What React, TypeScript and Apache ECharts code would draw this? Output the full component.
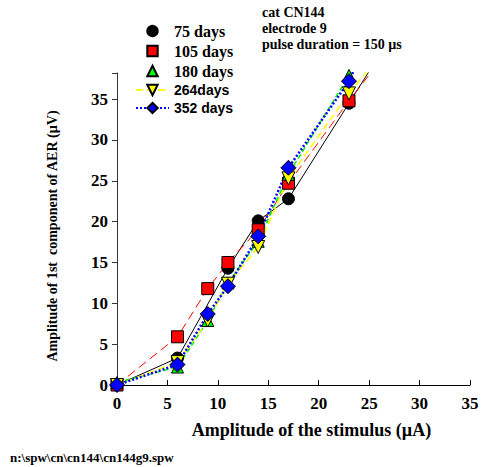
import React, { useEffect, useRef } from "react";
import * as echarts from "echarts";

const seriesNames = ["75 days", "105 days", "180 days", "264days", "352 days"];
const xTicks = [0, 5, 10, 15, 20, 25, 30, 35];
const yTicks = [0, 5, 10, 15, 20, 25, 30, 35];

// [stimulus µA, amplitude µV]
const d75: number[][] = [[0, 0], [6, 3.3], [11, 14.3], [14, 20.1], [17, 22.8], [23, 34.5]];
const d105: number[][] = [[0, 0], [6, 5.9], [9, 11.8], [11, 15.0], [14, 19.0], [17, 24.7], [23, 34.8]];
const d180: number[][] = [[0, 0.3], [6, 2.2], [9, 7.9], [11, 12.5], [14, 17.6], [17, 25.8], [23, 37.9]];
const d264: number[][] = [[0, 0], [6, 2.8], [9, 7.9], [11, 12.4], [14, 16.9], [17, 25.3], [23, 35.7]];
const d352: number[][] = [[0, 0], [6, 2.5], [9, 8.7], [11, 12.1], [14, 18.2], [17, 26.6], [23, 37.2]];
// continuation of each trace beyond the last measured point (no marker)
const ext75 = [25.1, 38.6];
const ext105 = [25.4, 38.6];
const ext180 = [23.3, 38.6];
const ext264 = [25.0, 38.7];
const ext352 = [23.5, 38.6];

const infoLines = ["cat CN144", "electrode 9", "pulse duration = 150 µs"];
const footer = "n:\\spw\\cn\\cn144\\cn144g9.spw";

const SERIF = "'Liberation Serif', 'Times New Roman', serif";
const SANS = "'Liberation Sans', Arial, sans-serif";

export default function App() {
  const ref = useRef<HTMLDivElement>(null);
  useEffect(() => {
    if (!ref.current) return;
    const chart = echarts.init(ref.current, undefined, { renderer: "svg" });

    const mk = (pts: number[][], ext: number[]) => [
      ...pts.map((p) => ({ value: p })),
      { value: ext, symbol: "none" },
    ];

    const series: any[] = [
      {
        name: seriesNames[0],
        type: "line",
        data: mk(d75, ext75),
        symbol: "circle",
        symbolSize: 12,
        itemStyle: { color: "#000", borderColor: "#000", borderWidth: 1 },
        lineStyle: { color: "#000", width: 1, type: "solid" },
      },
      {
        name: seriesNames[1],
        type: "line",
        data: mk(d105, ext105),
        symbol: "rect",
        symbolSize: 12,
        itemStyle: { color: "#ff0000", borderColor: "#000", borderWidth: 1 },
        lineStyle: { color: "#ff0000", width: 1, type: [9, 5] },
      },
      {
        name: seriesNames[2],
        type: "line",
        data: mk(d180, ext180),
        symbol: "triangle",
        symbolSize: 12,
        itemStyle: { color: "#00ff00", borderColor: "#000", borderWidth: 1 },
        lineStyle: { color: "#00ee00", width: 1.5, type: [5, 3] },
      },
      {
        name: seriesNames[3],
        type: "line",
        data: mk(d264, ext264),
        symbol: "triangle",
        symbolRotate: 180,
        symbolSize: 13,
        itemStyle: { color: "#ffff00", borderColor: "#000", borderWidth: 1 },
        lineStyle: { color: "#ffff00", width: 1.5, type: [7, 4] },
      },
      {
        name: seriesNames[4],
        type: "line",
        data: mk(d352, ext352),
        symbol: "diamond",
        symbolSize: 15,
        itemStyle: { color: "#0000ff", borderColor: "#000", borderWidth: 1 },
        lineStyle: { color: "#0000ff", width: 2.5, type: [2, 2] },
      },
    ].map((s) => ({ ...s, clip: true, z: 2 }));

    const serifLegend = { fontFamily: SERIF, fontWeight: "bold", fontSize: 16, color: "#000" };
    const sansLegend = { fontFamily: SANS, fontWeight: "bold", fontSize: 14, color: "#000" };

    chart.setOption({
      animation: false,
      backgroundColor: "#fff",
      grid: { left: 117, right: 14, top: 73, bottom: 82, containLabel: false },
      legend: {
        orient: "vertical",
        left: 130,
        top: 18,
        itemGap: 4,
        itemWidth: 33,
        itemHeight: 13,
        selectedMode: false,
        data: [
          { name: seriesNames[0], textStyle: serifLegend, lineStyle: { opacity: 0 } },
          { name: seriesNames[1], textStyle: serifLegend, lineStyle: { opacity: 0 } },
          { name: seriesNames[2], textStyle: serifLegend, lineStyle: { opacity: 0 } },
          { name: seriesNames[3], textStyle: sansLegend },
          { name: seriesNames[4], textStyle: sansLegend },
        ],
      },
      xAxis: {
        type: "value",
        min: xTicks[0],
        max: xTicks[xTicks.length - 1],
        interval: 5,
        name: "Amplitude of the stimulus (µA)",
        nameLocation: "middle",
        nameGap: 36,
        nameTextStyle: {
          fontFamily: SERIF,
          fontWeight: "bold",
          fontSize: 18,
          color: "#000",
          padding: [0, 0, 0, 36],
        },
        axisLine: { show: true, onZero: false, lineStyle: { color: "#000", width: 1 } },
        axisTick: { show: true, inside: true, length: 5, lineStyle: { color: "#000" } },
        axisLabel: {
          margin: 10,
          fontFamily: SERIF,
          fontWeight: "bold",
          fontSize: 17,
          color: "#000",
        },
        splitLine: { show: false },
      },
      yAxis: {
        type: "value",
        min: yTicks[0],
        max: 38.2,
        interval: 5,
        name: "Amplitude of 1st  component of AER (µV)",
        nameLocation: "middle",
        nameGap: 58,
        nameRotate: 90,
        nameTextStyle: {
          fontFamily: SERIF,
          fontWeight: "bold",
          fontSize: 14,
          color: "#000",
          padding: [0, 14, 0, 0],
        },
        axisLine: { show: true, onZero: false, lineStyle: { color: "#333", width: 1 } },
        axisTick: { show: true, inside: false, length: 5, lineStyle: { color: "#333" } },
        axisLabel: {
          margin: 9,
          fontFamily: SERIF,
          fontWeight: "bold",
          fontSize: 17,
          color: "#000",
          formatter: (v: number) => (yTicks.includes(v) ? String(v) : ""),
        },
        splitLine: { show: false },
      },
      graphic: [
        {
          type: "text",
          left: 262,
          top: 4,
          style: {
            text: infoLines.join("\n"),
            font: `bold 14px ${SERIF}`,
            lineHeight: 16,
            fill: "#000",
          },
        },
        {
          type: "text",
          left: 10,
          top: 451,
          style: {
            text: footer,
            font: `bold 13px ${SERIF}`,
            fill: "#000",
          },
        },
      ],
      series,
    });

    return () => chart.dispose();
  }, []);

  return <div ref={ref} style={{ width: 484, height: 467, position: "absolute", left: 0, top: 0 }} />;
}
